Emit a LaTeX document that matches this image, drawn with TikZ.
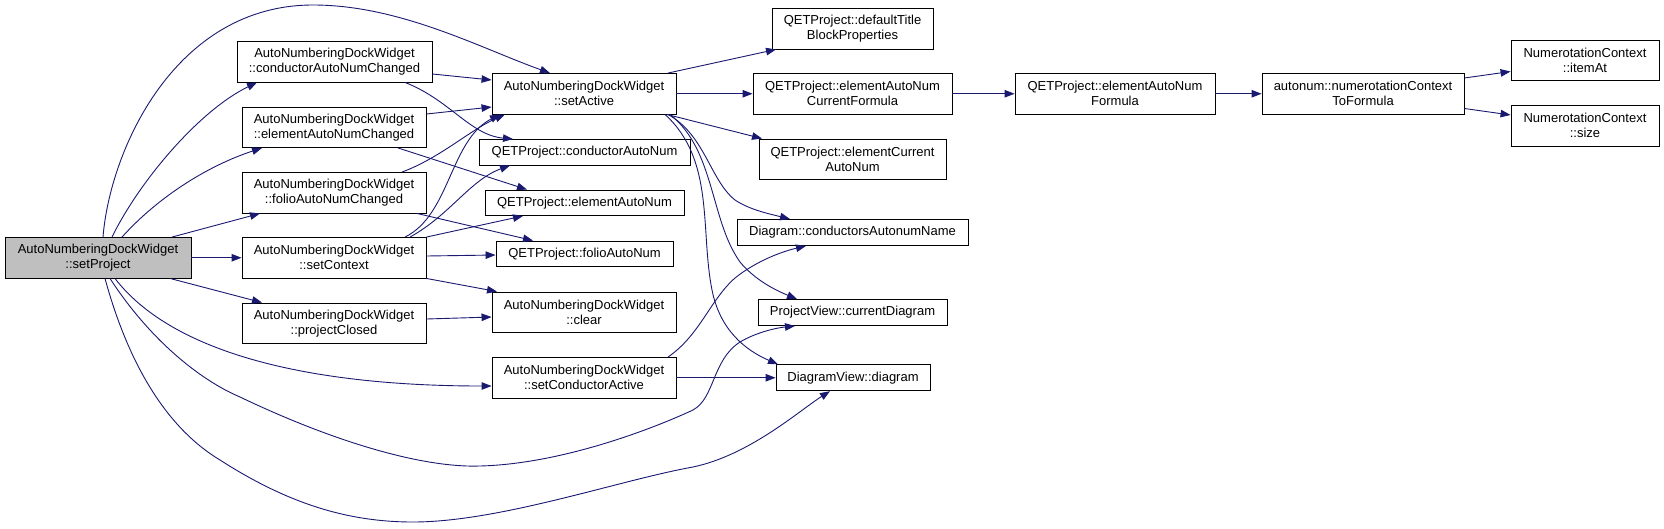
\documentclass[tikz,border=0pt]{standalone}
\usepackage{fontspec}
\setmainfont{Liberation Sans}
\usetikzlibrary{arrows.meta,calc}
\definecolor{edgec}{HTML}{191970}
\definecolor{rootfill}{HTML}{BFBFBF}
\begin{document}
\begin{tikzpicture}[x=1pt,y=-1pt,
  box/.style={draw=black, fill=white, line width=0.9pt, inner sep=0pt, align=center,
    font=\fontsize{13}{15}\selectfont},
  rootbox/.style={box, fill=rootfill},
  edge/.style={draw=edgec, line width=0.9pt, -{Triangle[length=10pt,width=7.5pt]}}]
\useasboundingbox (0,0) rectangle (1664,528);
% column 1
\node[rootbox, minimum width=186pt, minimum height=40.5pt] (sp) at (98,257.75) {AutoNumberingDockWidget\\::setProject};
% column 2
\node[box, minimum width=195pt, minimum height=40.5pt] (cANC) at (334.5,61.75) {AutoNumberingDockWidget\\::conductorAutoNumChanged};
\node[box, minimum width=184pt, minimum height=40.5pt] (eANC) at (334,127.25) {AutoNumberingDockWidget\\::elementAutoNumChanged};
\node[box, minimum width=184pt, minimum height=40.5pt] (fANC) at (334,192.75) {AutoNumberingDockWidget\\::folioAutoNumChanged};
\node[box, minimum width=184pt, minimum height=40.5pt] (sc) at (334,257.75) {AutoNumberingDockWidget\\::setContext};
\node[box, minimum width=184pt, minimum height=40.5pt] (pc) at (334,323.25) {AutoNumberingDockWidget\\::projectClosed};
% column 3
\node[box, minimum width=184pt, minimum height=40.5pt] (sa) at (584,93.75) {AutoNumberingDockWidget\\::setActive};
\node[box, minimum width=211pt, minimum height=25.5pt] (cautonum) at (584.5,152.25) {QETProject::conductorAutoNum};
\node[box, minimum width=199pt, minimum height=25.5pt] (ean) at (584.5,202.75) {QETProject::elementAutoNum};
\node[box, minimum width=177pt, minimum height=25.5pt] (fan) at (584.5,253.75) {QETProject::folioAutoNum};
\node[box, minimum width=184pt, minimum height=40.5pt] (cl) at (584,312.25) {AutoNumberingDockWidget\\::clear};
\node[box, minimum width=184pt, minimum height=40.5pt] (sca) at (584,377.75) {AutoNumberingDockWidget\\::setConductorActive};
% column 4
\node[box, minimum width=161pt, minimum height=40.5pt] (dt) at (852.5,28.75) {QETProject::defaultTitle\\BlockProperties};
\node[box, minimum width=199pt, minimum height=40.5pt] (eancf) at (852.5,93.75) {QETProject::elementAutoNum\\CurrentFormula};
\node[box, minimum width=187pt, minimum height=40.5pt] (ecan) at (852.5,159.25) {QETProject::elementCurrent\\AutoNum};
\node[box, minimum width=231pt, minimum height=26pt] (cautoname) at (852.5,232.5) {Diagram::conductorsAutonumName};
\node[box, minimum width=189pt, minimum height=26pt] (cd) at (852.5,312.5) {ProjectView::currentDiagram};
\node[box, minimum width=154pt, minimum height=26pt] (dv) at (853,377.75) {DiagramView::diagram};
% columns 5-7
\node[box, minimum width=200pt, minimum height=40.5pt] (eanf) at (1115,93.75) {QETProject::elementAutoNum\\Formula};
\node[box, minimum width=202pt, minimum height=40.5pt] (nctf) at (1363,93.75) {autonum::numerotationContext\\ToFormula};
\node[box, minimum width=148pt, minimum height=40.5pt] (ia) at (1585,60.25) {NumerotationContext\\::itemAt};
\node[box, minimum width=148pt, minimum height=40.5pt] (sz) at (1585,125.75) {NumerotationContext\\::size};
% edges from setProject
\draw[edge] (sp.north -| 103,0) .. controls (110,150) and (175,5) .. (313,5) .. controls (400,5) and (480,48) .. (sa.north -| 550,0);
\draw[edge] (sp.north -| 112,0) .. controls (140,180) and (200,110) .. (cANC.south -| 257,0);
\draw[edge] (sp.north -| 122,0) .. controls (160,195) and (210,165) .. (eANC.south -| 262,0);
\draw[edge] (sp.north -| 172,0) -- (fANC.south -| 260,0);
\draw[edge] (sp.east) -- (sc.west);
\draw[edge] (sp.south -| 170,0) -- (pc.north -| 262,0);
\draw[edge] (sp.south -| 115,0) .. controls (170,350) and (300,386) .. (sca.west |- 0,386);
\draw[edge] (sp.south -| 110,0) .. controls (150,340) and (200,380) .. (240,397) .. controls (330,440) and (420,468) .. (480,466) .. controls (560,464) and (650,430) .. (693,410) .. controls (715,398) and (712,360) .. (740,342) .. controls (755,333) and (775,328) .. (cd.south -| 795,0);
\draw[edge] (sp.south -| 105,0) .. controls (130,370) and (170,430) .. (220,460) .. controls (290,505) and (350,522) .. (413,522) .. controls (500,522) and (620,480) .. (693,467) .. controls (750,455) and (800,410) .. (dv.south -| 830,0);
% column 2 edges
\draw[edge] (cANC.east |- 0,74) -- (sa.west |- 0,80);
\draw[edge] (cANC.south -| 405,0) .. controls (450,100) and (470,135) .. (cautonum.north -| 513,0);
\draw[edge] (eANC.east |- 0,114) -- (sa.west |- 0,107);
\draw[edge] (eANC.south -| 398,0) -- (ean.north -| 527,0);
\draw[edge] (fANC.north -| 402,0) .. controls (440,158) and (470,130) .. (sa.south -| 505,0);
\draw[edge] (fANC.south -| 417,0) -- (fan.north -| 533,0);
\draw[edge] (sc.north -| 405,0) .. controls (450,215) and (450,140) .. (sa.south -| 500,0);
\draw[edge] (sc.north -| 410,0) .. controls (450,215) and (470,180) .. (cautonum.south -| 510,0);
\draw[edge] (sc.north east) -- (ean.south -| 523,0);
\draw[edge] (sc.east |- 0,256) -- (fan.west |- 0,255);
\draw[edge] (sc.south east) -- (cl.north -| 497,0);
\draw[edge] (pc.east |- 0,319) -- (cl.west |- 0,317);
% setActive edges
\draw[edge] (sa.north -| 668,0) -- (dt.south -| 776,0);
\draw[edge] (sa.east) -- (eancf.west);
\draw[edge] (sa.south -| 667,0) -- (ecan.north -| 762,0);
\draw[edge] (sa.south -| 668,0) .. controls (705,135) and (710,180) .. (735,200) .. controls (750,210) and (770,214) .. (cautoname.north -| 790,0);
\draw[edge] (sa.south -| 670,0) .. controls (715,150) and (710,220) .. (740,262) .. controls (755,280) and (775,290) .. (cd.north -| 797,0);
\draw[edge] (sa.south -| 665,0) .. controls (715,160) and (700,230) .. (712,290) .. controls (720,330) and (745,350) .. (dv.north -| 778,0);
% setConductorActive edges
\draw[edge] (sca.north -| 668,0) .. controls (700,335) and (710,300) .. (735,278) .. controls (755,262) and (780,252) .. (cautoname.south -| 806,0);
\draw[edge] (sca.east) -- (dv.west);
% right chain
\draw[edge] (eancf.east) -- (eanf.west);
\draw[edge] (eanf.east) -- (nctf.west);
\draw[edge] (nctf.east |- 0,78) -- (ia.west |- 0,71.5);
\draw[edge] (nctf.east |- 0,108.5) -- (sz.west |- 0,115);
\end{tikzpicture}
\end{document}
